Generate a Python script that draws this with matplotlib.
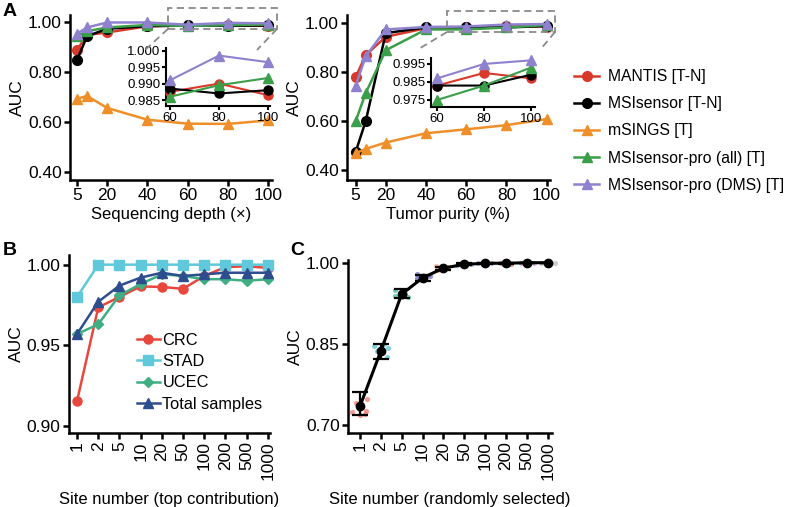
import numpy as np
import matplotlib
matplotlib.use("Agg")
import matplotlib.pyplot as plt
from matplotlib.patches import Rectangle
from matplotlib.lines import Line2D

plt.rcParams['font.family'] = ['Liberation Sans', 'DejaVu Sans']

# ---- panel A data ----
depth = [5, 10, 20, 40, 60, 80, 100]
mantis_depth = [0.89, 0.95, 0.96, 0.985, 0.9875, 0.990, 0.9865]
msisensor_depth = [0.85, 0.945, 0.975, 0.985, 0.9885, 0.987, 0.988]
msings_depth = [0.694, 0.705, 0.657, 0.61, 0.594, 0.593, 0.607]
pro_all_depth = [0.945, 0.965, 0.98, 0.99, 0.986, 0.9895, 0.9917]
pro_dms_depth = [0.955, 0.98, 1.0, 1.0, 0.991, 0.9985, 0.9965]

purity = [5, 10, 20, 40, 60, 80, 100]
mantis_purity = [0.78, 0.87, 0.945, 0.98, 0.983, 0.990, 0.987]
msisensor_purity = [0.475, 0.60, 0.96, 0.983, 0.983, 0.983, 0.989]
msings_purity = [0.469, 0.487, 0.513, 0.551, 0.567, 0.584, 0.609]
pro_all_purity = [0.60, 0.715, 0.89, 0.975, 0.975, 0.983, 0.993]
pro_dms_purity = [0.745, 0.865, 0.975, 0.985, 0.987, 0.995, 0.997]

tool_names = ["MANTIS [T-N]", "MSIsensor [T-N]", "mSINGS [T]",
              "MSIsensor-pro (all) [T]", "MSIsensor-pro (DMS) [T]"]
tool_colors = ["#d9392b", "#000000", "#ef8f29", "#3b9e48", "#8e82cf"]
tool_markers = ["o", "o", "^", "^", "^"]

# ---- panel B data ----
sites = ['1', '2', '5', '10', '20', '50', '100', '200', '500', '1000']
crc = [0.9155, 0.9735, 0.980, 0.9865, 0.9862, 0.985, 0.993, 0.9985, 0.999, 0.998]
stad = [0.98, 1.0, 1.0, 1.0, 1.0, 1.0, 1.0, 1.0, 1.0, 1.0]
ucec = [0.957, 0.963, 0.981, 0.988, 0.994, 0.993, 0.991, 0.991, 0.990, 0.991]
total = [0.957, 0.977, 0.987, 0.992, 0.995, 0.993, 0.994, 0.995, 0.995, 0.995]

# ---- panel C data ----
mean_c = [0.735, 0.837, 0.942, 0.972, 0.99, 0.997, 0.999, 0.999, 1.0, 1.0]
lo_c = [0.7185, 0.822, 0.935, 0.967, 0.986, 0.995, 0.998, 0.998, 0.999, 0.999]
hi_c = [0.761, 0.851, 0.952, 0.977, 0.993, 0.999, 1.0, 1.0, 1.0, 1.0]
pts_c = [
    [0.72, 0.721, 0.724, 0.727, 0.73, 0.742, 0.748],
    [0.826, 0.832, 0.838, 0.842, 0.846, 0.851],
    [0.936, 0.939, 0.943, 0.946, 0.95],
    [0.968, 0.972, 0.976, 0.98],
    [0.987, 0.99, 0.992, 0.994],
    [0.996, 0.997, 0.998],
    [0.998, 0.999, 1.0],
    [0.998, 0.999, 1.0],
    [0.999, 1.0, 1.0],
    [0.999, 1.0, 1.0],
]
pt_colors = ['#f07a70', '#5cc3d3', '#3fc0a0', '#6f6fc0', '#f2ad8c',
             '#7f8fd8', '#9fb8e0', '#e86a70', '#c9a0d0', '#c0c0c0']

W, H = 787, 507
fig = plt.figure(figsize=(W / 100, H / 100), dpi=100)

FS = 12.5


def box(x0, y0, x1, y1):
    return [x0 / W, 1 - y1 / H, (x1 - x0) / W, (y1 - y0) / H]


def px(x, y):
    return (x / W, 1 - y / H)


def style(ax, fs=FS, lw=1.8):
    for s in ['top', 'right']:
        ax.spines[s].set_visible(False)
    for s in ['left', 'bottom']:
        ax.spines[s].set_linewidth(lw)
    ax.tick_params(width=lw, length=4, labelsize=fs, pad=2)


def draw_tools(ax, x, series, ms=7, lw=1.8):
    handles = []
    for ys, c, m, n in zip(series, tool_colors, tool_markers, tool_names):
        h, = ax.plot(x, ys, color=c, marker=m, markersize=ms, lw=lw, label=n,
                     clip_on=False, zorder=3)
        handles.append(h)
    return handles


# ---------- A left ----------
axA1 = fig.add_axes(box(70, 15, 272, 180))
style(axA1)
series_d = [mantis_depth, msisensor_depth, msings_depth, pro_all_depth, pro_dms_depth]
handles = draw_tools(axA1, depth, series_d)
axA1.set_xlim(1.5, 102)
axA1.set_ylim(0.368, 1.03)
axA1.set_xticks([5, 20, 40, 60, 80, 100])
axA1.set_yticks([0.4, 0.6, 0.8, 1.0])
axA1.set_yticklabels(['0.40', '0.60', '0.80', '1.00'])
axA1.set_ylabel("AUC", fontsize=FS, labelpad=2)
axA1.set_xlabel("Sequencing depth (\u00d7)", fontsize=12, labelpad=3)

insA1 = fig.add_axes(box(166, 48, 270, 106))
style(insA1, fs=9.5, lw=1.5)
draw_tools(insA1, depth[4:], [s[4:] for s in series_d], ms=6.5, lw=1.5)
insA1.set_xlim(58.4, 100.8)
insA1.set_ylim(0.9832, 1.0008)
insA1.set_xticks([60, 80, 100])
insA1.set_yticks([0.985, 0.990, 0.995, 1.000])
insA1.set_yticklabels(['0.985', '0.990', '0.995', '1.000'])
insA1.tick_params(length=3, pad=1)

# ---------- A right ----------
axA2 = fig.add_axes(box(347, 15, 550, 180))
style(axA2)
series_p = [mantis_purity, msisensor_purity, msings_purity, pro_all_purity, pro_dms_purity]
draw_tools(axA2, purity, series_p)
axA2.set_xlim(0.7, 101.7)
axA2.set_ylim(0.36, 1.034)
axA2.set_xticks([5, 20, 40, 60, 80, 100])
axA2.set_yticks([0.4, 0.6, 0.8, 1.0])
axA2.set_yticklabels(['0.40', '0.60', '0.80', '1.00'])
axA2.set_ylabel("AUC", fontsize=FS, labelpad=2)
axA2.set_xlabel("Tumor purity (%)", fontsize=12, labelpad=3)

insA2 = fig.add_axes(box(431, 58, 535, 107))
style(insA2, fs=9.5, lw=1.5)
draw_tools(insA2, purity[4:], [s[4:] for s in series_p], ms=6.5, lw=1.5)
insA2.set_xlim(57.4, 101.7)
insA2.set_ylim(0.9711, 0.9983)
insA2.set_xticks([60, 80, 100])
insA2.set_yticks([0.975, 0.985, 0.995])
insA2.set_yticklabels(['0.975', '0.985', '0.995'])
insA2.tick_params(length=3, pad=1)

# zoom boxes and connectors (figure pixel coords)
dash = dict(color='#8a8a8a', lw=1.3, ls=(0, (4, 2.5)))
for (x0, y0, x1, y1), (la, lb), (ra, rb) in [
        ((168, 8, 277, 29), (145, 50), (257, 50)),
        ((447, 11, 555, 32), (417, 50), (540, 50))]:
    fx0, fy1 = px(x0, y1)
    fx1, fy0 = px(x1, y0)
    fig.patches.append(Rectangle((fx0, fy1), fx1 - fx0, fy0 - fy1, fill=False,
                                 transform=fig.transFigure, **dash))
    for (sx, sy), (ex, ey) in [((x0, y1), (la, lb)), ((x1, y1), (ra, rb))]:
        a, b = px(sx, sy)
        c, d = px(ex, ey)
        fig.add_artist(Line2D([a, c], [b, d], transform=fig.transFigure, **dash))

fig.legend(handles=handles, loc='upper left', bbox_to_anchor=px(574, 69),
           frameon=False, fontsize=11.3, handlelength=1.6, handletextpad=0.55,
           labelspacing=0.78, borderpad=0, borderaxespad=0)

# ---------- B ----------
axB = fig.add_axes(box(69, 255, 270, 433))
style(axB)
xb = np.arange(len(sites))
b_series = [(crc, 'CRC', '#e8473d', 'o'), (stad, 'STAD', '#5fc9db', 's'),
            (ucec, 'UCEC', '#3fae82', 'D'), (total, 'Total samples', '#2e4d8f', '^')]
for ys, n, c, m in b_series:
    axB.plot(xb, ys, color=c, marker=m, markersize=6.5 if m != 'D' else 5.5,
             lw=1.8, label=n, clip_on=False, zorder=3)
axB.set_xlim(-0.38, 9.1)
axB.set_ylim(0.8956, 1.006)
axB.set_xticks(xb)
axB.set_xticklabels(sites, rotation=90)
axB.set_yticks([0.90, 0.95, 1.00])
axB.set_yticklabels(['0.90', '0.95', '1.00'])
axB.set_ylabel("AUC", fontsize=FS, labelpad=2)
axB.set_xlabel("Site number (top contribution)", fontsize=12, labelpad=9)
axB.legend(loc='upper left', bbox_to_anchor=px(137, 333), bbox_transform=fig.transFigure,
           frameon=False, fontsize=11.8, handlelength=1.4, handletextpad=0.15,
           labelspacing=0.38, borderpad=0, borderaxespad=0)

# ---------- C ----------
axC = fig.add_axes(box(348, 260, 552, 433))
style(axC)
xc = np.arange(len(sites))
for i, ys in enumerate(pts_c):
    # fixed, non-random horizontal spread of the per-run points
    offs = 0.36 * np.sin(np.arange(len(ys)) * 2.4 + i)
    axC.scatter(xc[i] + offs, ys, s=14, color=pt_colors[i], alpha=0.75,
                linewidths=0, zorder=2, clip_on=False)
axC.errorbar(xc, mean_c,
             yerr=[np.array(mean_c) - np.array(lo_c), np.array(hi_c) - np.array(mean_c)],
             fmt='none', ecolor='black', elinewidth=1.6, capsize=6, capthick=1.6, zorder=3)
axC.plot(xc, mean_c, color='black', marker='o', markersize=6, lw=2.2, zorder=4,
         clip_on=False)
axC.set_xlim(-0.57, 9.2)
axC.set_ylim(0.686, 1.005)
axC.set_xticks(xc)
axC.set_xticklabels(sites, rotation=90)
axC.set_yticks([0.70, 0.85, 1.00])
axC.set_yticklabels(['0.70', '0.85', '1.00'])
axC.set_ylabel("AUC", fontsize=FS, labelpad=2)
axC.set_xlabel("Site number (randomly selected)", fontsize=12, labelpad=9)

# panel letters
for t, (x, y) in [('A', (3, 12)), ('B', (3, 250)), ('C', (290, 250))]:
    fx, fy = px(x, y)
    fig.text(fx, fy, t, fontsize=14, fontweight='bold', va='center', ha='left')

fig.savefig("out.png", dpi=100)
